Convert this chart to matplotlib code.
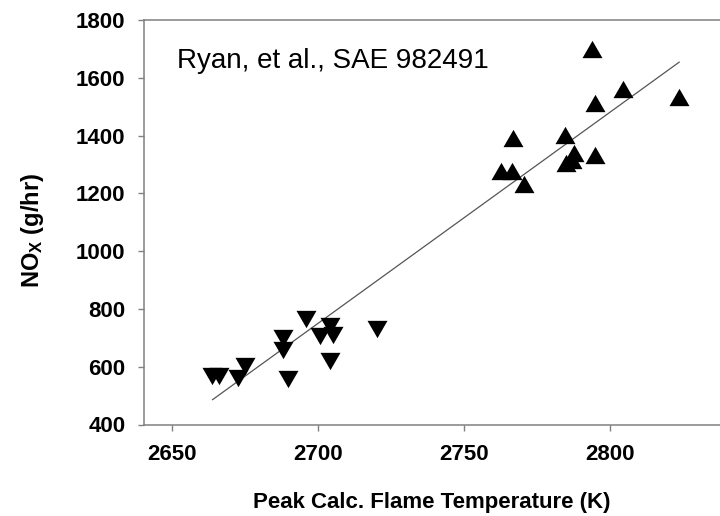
import matplotlib
matplotlib.use("Agg")
import matplotlib.pyplot as plt

# Data
down_temp = [2663.7, 2666.0, 2672.6, 2674.9, 2687.8, 2687.8, 2689.8, 2695.8,
             2700.6, 2704.0, 2705.0, 2704.0, 2720.3]
down_nox = [567, 567, 561, 601, 700, 659, 558, 765, 705, 740, 711, 619, 731]

up_temp = [2793.9, 2804.6, 2794.9, 2823.7, 2766.9, 2784.6, 2762.5, 2766.5,
           2770.6, 2784.9, 2787.8, 2786.9, 2794.9]
up_nox = [1699, 1560, 1514, 1535, 1393, 1402, 1277, 1279, 1233, 1306, 1339,
          1314, 1334]

fit_temp = [2663.8, 2823.7]
fit_nox = [486, 1654]

x_ticks = [2650, 2700, 2750, 2800]
y_ticks = [400, 600, 800, 1000, 1200, 1400, 1600, 1800]

annotation = "Ryan, et al., SAE 982491"
x_label = "Peak Calc. Flame Temperature (K)"
y_label = r"NO$_{\mathbf{X}}$ (g/hr)"

plt.rcParams['font.family'] = ['Liberation Sans', 'DejaVu Sans']
plt.rcParams['mathtext.fontset'] = 'custom'
plt.rcParams['mathtext.rm'] = 'Liberation Sans:bold'
plt.rcParams['mathtext.bf'] = 'Liberation Sans:bold'
plt.rcParams['mathtext.default'] = 'bf'

fig = plt.figure(figsize=(7.2, 5.16), dpi=100)
ax = fig.add_axes([144 / 720, 1 - 424.5 / 516, 1 - 144 / 720, (424.5 - 20) / 516])

up_marker = [(0, 0.866), (-1, -0.866), (1, -0.866), (0, 0.866)]
down_marker = [(0, -0.866), (-1, 0.866), (1, 0.866), (0, -0.866)]

ax.plot(fit_temp, fit_nox, color='#555555', lw=0.9, zorder=2)
ax.plot(down_temp, down_nox, linestyle='none', marker=down_marker,
        markersize=14.4, color='black', markeredgewidth=0, zorder=3)
ax.plot(up_temp, up_nox, linestyle='none', marker=up_marker,
        markersize=14.4, color='black', markeredgewidth=0, zorder=3)

ax.set_xlim(2640.3, 2837.7)
ax.set_ylim(400, 1800)
ax.set_xticks(x_ticks)
ax.set_yticks(y_ticks)
ax.set_xticklabels([str(v) for v in x_ticks], fontsize=16, fontweight='bold')
ax.set_yticklabels([str(v) for v in y_ticks], fontsize=16, fontweight='bold')

for side in ['left', 'bottom', 'top']:
    ax.spines[side].set_color('#808080')
    ax.spines[side].set_linewidth(1.1)
ax.spines['right'].set_visible(False)
ax.tick_params(axis='both', direction='out', length=4.3, width=1.0, color='#808080')
ax.tick_params(axis='y', pad=9)
ax.tick_params(axis='x', pad=10)
ax.tick_params(top=False, right=False)

ax.set_xlabel(x_label, fontsize=16, fontweight='bold')
ax.xaxis.set_label_coords(0.5, -0.168)
ax.set_ylabel(y_label, fontsize=17, fontweight='bold')
ax.yaxis.set_label_coords(-0.17, 0.48)

fig.text(176.7 / 720, 1 - 68.3 / 516, annotation, fontsize=20,
         ha='left', va='baseline', color='black')

fig.savefig("out.png", dpi=100)
